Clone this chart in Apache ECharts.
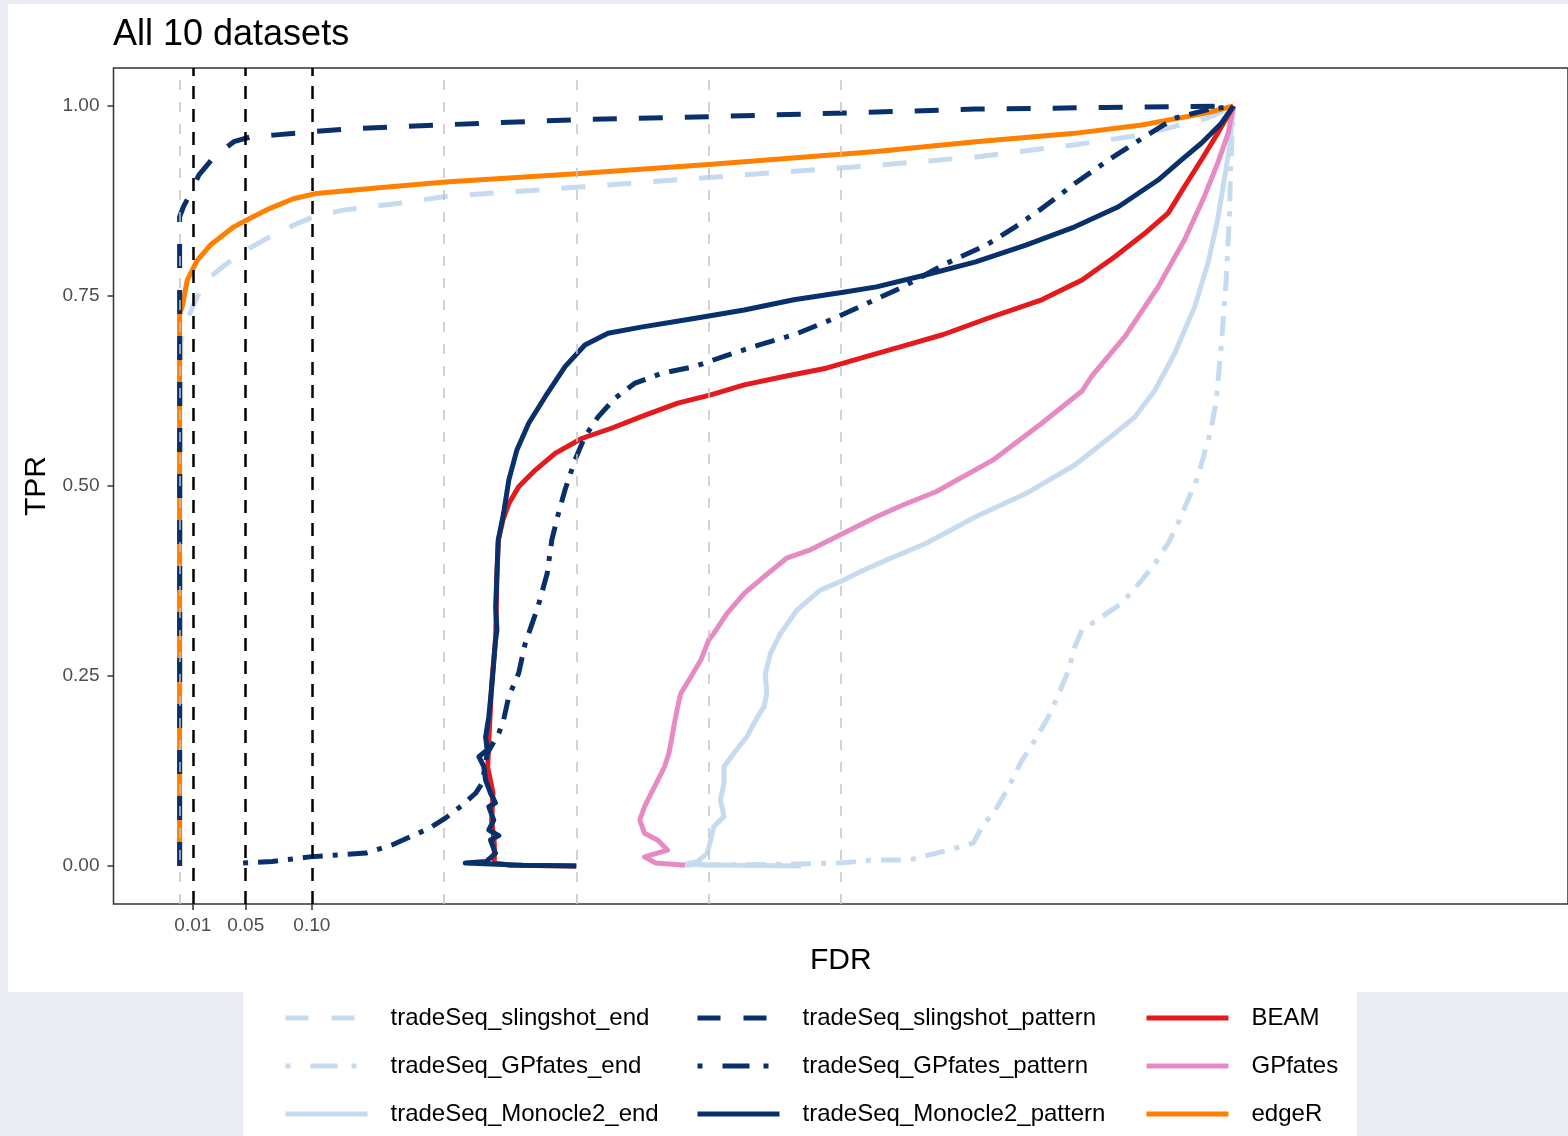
<!DOCTYPE html>
<html><head><meta charset="utf-8">
<script src="https://cdn.jsdelivr.net/npm/echarts@6.0.0/dist/echarts.min.js"></script>
<style>
html,body{margin:0;padding:0;background:#e9ecf2;width:1568px;height:1136px;overflow:hidden;}
#panel{position:absolute;left:8px;top:4px;width:1560px;height:988px;background:#fff;}
#legbox{position:absolute;left:243px;top:992px;width:1114px;height:144px;background:#fff;}
#chart{position:absolute;left:0;top:0;width:1568px;height:1136px;}
</style></head><body>
<div id="panel"></div><div id="legbox"></div><div id="chart"></div>
<script>
// ---------- DATA ----------
const titleText = 'All 10 datasets';
const xTickValues = [0.01, 0.05, 0.10];
const yTickValues = [0, 0.25, 0.5, 0.75, 1.0];
const grayGridX = [0, 0.2, 0.3, 0.4, 0.5];
const fdrThresholds = [0.01, 0.05, 0.10];

const slingshotEndFDR = [0, 0.001, 0.0045, 0.0133, 0.023, 0.0359, 0.0509, 0.0684, 0.086, 0.101, 0.1235, 0.166, 0.201, 0.300, 0.400, 0.527, 0.602, 0.677, 0.7276, 0.777, 0.797];
const slingshotEndTPR = [0, 0.69, 0.714, 0.749, 0.775, 0.793, 0.811, 0.828, 0.843, 0.854, 0.863, 0.872, 0.881, 0.893, 0.906, 0.922, 0.933, 0.949, 0.962, 0.984, 1.0];

const gpfatesEndFDR = [0.383, 0.45, 0.500, 0.5263, 0.552, 0.577, 0.600, 0.607, 0.617, 0.627, 0.637, 0.647, 0.657, 0.665, 0.6724, 0.677, 0.6825, 0.6975, 0.7125, 0.7276, 0.7376, 0.7476, 0.755, 0.7626, 0.770, 0.775, 0.780, 0.784, 0.7877, 0.7915, 0.794, 0.795, 0.797];
const gpfatesEndTPR = [0.001, 0.002, 0.004, 0.008, 0.008, 0.019, 0.030, 0.052, 0.074, 0.104, 0.139, 0.166, 0.196, 0.227, 0.258, 0.2886, 0.3105, 0.328, 0.3456, 0.376, 0.398, 0.4246, 0.4509, 0.4816, 0.512, 0.543, 0.5737, 0.613, 0.683, 0.771, 0.859, 0.9245, 1.0];

const monocleEndFDR = [0.47, 0.42, 0.3817, 0.392, 0.399, 0.4017, 0.404, 0.4117, 0.409, 0.4117, 0.4117, 0.419, 0.429, 0.437, 0.442, 0.444, 0.443, 0.447, 0.4545, 0.467, 0.4845, 0.502, 0.5145, 0.5346, 0.5647, 0.602, 0.640, 0.677, 0.7025, 0.7226, 0.7376, 0.7526, 0.7677, 0.7777, 0.785, 0.790, 0.794, 0.797];
const monocleEndTPR = [0.000, 0.001, 0.002, 0.006, 0.017, 0.034, 0.052, 0.065, 0.087, 0.109, 0.1306, 0.148, 0.170, 0.196, 0.2096, 0.227, 0.2535, 0.280, 0.306, 0.337, 0.363, 0.376, 0.387, 0.4026, 0.4246, 0.4596, 0.490, 0.5276, 0.5625, 0.591, 0.626, 0.6746, 0.736, 0.793, 0.850, 0.9026, 0.946, 1.0];

const gpfatesFDR = [0.382, 0.360, 0.3516, 0.369, 0.3617, 0.3516, 0.348, 0.3516, 0.3566, 0.3617, 0.3667, 0.370, 0.372, 0.3742, 0.3767, 0.379, 0.3867, 0.3942, 0.400, 0.404, 0.414, 0.427, 0.442, 0.459, 0.477, 0.502, 0.527, 0.547, 0.572, 0.615, 0.652, 0.6825, 0.690, 0.715, 0.740, 0.760, 0.775, 0.785, 0.793, 0.797];
const gpfatesTPR = [0.001, 0.004, 0.012, 0.021, 0.034, 0.043, 0.0605, 0.078, 0.0955, 0.113, 0.1306, 0.148, 0.166, 0.188, 0.2096, 0.227, 0.249, 0.271, 0.297, 0.306, 0.3325, 0.3586, 0.3807, 0.405, 0.416, 0.4377, 0.4596, 0.475, 0.4925, 0.534, 0.5825, 0.625, 0.645, 0.697, 0.762, 0.824, 0.881, 0.9245, 0.964, 1.0];

const beamFDR = [0.300, 0.25, 0.238, 0.238, 0.236, 0.237, 0.233, 0.234, 0.236, 0.239, 0.2395, 0.240, 0.241, 0.2445, 0.249, 0.2564, 0.269, 0.284, 0.304, 0.3266, 0.3516, 0.3767, 0.4017, 0.427, 0.457, 0.489, 0.5145, 0.547, 0.577, 0.615, 0.652, 0.6825, 0.7075, 0.730, 0.7476, 0.760, 0.7727, 0.785, 0.797];
const beamTPR = [0.000, 0.001, 0.004, 0.03, 0.06, 0.096, 0.13, 0.17, 0.24, 0.30, 0.34, 0.385, 0.429, 0.455, 0.477, 0.499, 0.521, 0.543, 0.5625, 0.576, 0.593, 0.609, 0.620, 0.633, 0.644, 0.655, 0.668, 0.684, 0.699, 0.723, 0.745, 0.771, 0.802, 0.8325, 0.859, 0.894, 0.929, 0.964, 1.0];

const edgeRFDR = [0, 0, 0.002, 0.0058, 0.0133, 0.0233, 0.041, 0.053, 0.068, 0.086, 0.1035, 0.1486, 0.201, 0.300, 0.400, 0.527, 0.602, 0.677, 0.7276, 0.777, 0.797];
const edgeRTPR = [0, 0.727, 0.736, 0.771, 0.797, 0.817, 0.841, 0.852, 0.865, 0.878, 0.885, 0.892, 0.900, 0.911, 0.923, 0.940, 0.953, 0.964, 0.975, 0.991, 1.0];

const slingshotPatFDR = [0, 0, 0.003, 0.0083, 0.0145, 0.026, 0.041, 0.053, 0.073, 0.0985, 0.129, 0.196, 0.300, 0.400, 0.527, 0.602, 0.700, 0.797];
const slingshotPatTPR = [0, 0.854, 0.868, 0.885, 0.909, 0.933, 0.953, 0.959, 0.962, 0.966, 0.970, 0.975, 0.982, 0.986, 0.992, 0.996, 0.998, 1.0];

const gpfatesPatFDR = [0.048, 0.07, 0.0985, 0.141, 0.161, 0.1887, 0.201, 0.2138, 0.2238, 0.2288, 0.2326, 0.2414, 0.245, 0.2489, 0.2564, 0.2614, 0.271, 0.278, 0.2815, 0.2865, 0.2915, 0.299, 0.3065, 0.3165, 0.329, 0.344, 0.364, 0.389, 0.414, 0.439, 0.4645, 0.489, 0.5145, 0.547, 0.580, 0.610, 0.632, 0.652, 0.677, 0.7025, 0.7276, 0.7526, 0.777, 0.797];
const gpfatesPatTPR = [0.004, 0.006, 0.012, 0.017, 0.028, 0.0496, 0.063, 0.080, 0.0957, 0.109, 0.148, 0.1746, 0.192, 0.2228, 0.2535, 0.293, 0.341, 0.385, 0.429, 0.464, 0.495, 0.534, 0.565, 0.591, 0.615, 0.635, 0.648, 0.657, 0.672, 0.686, 0.699, 0.716, 0.736, 0.762, 0.793, 0.817, 0.841, 0.865, 0.898, 0.929, 0.957, 0.984, 0.995, 1.0];

const monoclePatFDR = [0.300, 0.26, 0.216, 0.232, 0.2389, 0.2351, 0.2414, 0.2338, 0.2376, 0.2338, 0.2389, 0.2351, 0.2314, 0.2301, 0.2263, 0.2326, 0.2314, 0.2338, 0.2363, 0.2389, 0.240, 0.239, 0.240, 0.241, 0.245, 0.249, 0.255, 0.264, 0.2765, 0.2915, 0.3065, 0.324, 0.349, 0.389, 0.427, 0.4645, 0.502, 0.527, 0.5647, 0.602, 0.640, 0.677, 0.710, 0.740, 0.7577, 0.7727, 0.7877, 0.797];
const monoclePatTPR = [0.000, 0.001, 0.004, 0.006, 0.0167, 0.0342, 0.040, 0.0474, 0.0605, 0.078, 0.083, 0.096, 0.113, 0.1307, 0.1438, 0.1526, 0.170, 0.196, 0.240, 0.297, 0.3105, 0.341, 0.385, 0.429, 0.464, 0.508, 0.547, 0.5825, 0.6175, 0.657, 0.6855, 0.701, 0.709, 0.7205, 0.7316, 0.745, 0.755, 0.762, 0.778, 0.795, 0.817, 0.841, 0.8675, 0.9026, 0.929, 0.951, 0.977, 1.0];

// ---------- STYLE ----------
const NAVY = '#08306b', LIGHT = '#c6dbef', RED = '#e41a1c', PINK = '#e78ac3', ORANGE = '#ff7f00';
const DASHED = [24, 22];
const DOTDASH = [5, 10, 20, 10];
const LEG_DOTDASH = [5, 20, 27, 14];
const LEG_DASHED = [23, 23];

const seriesDefs = [
  {name: 'tradeSeq_slingshot_end', fdr: slingshotEndFDR, tpr: slingshotEndTPR, color: LIGHT, type: DASHED},
  {name: 'tradeSeq_GPfates_end', fdr: gpfatesEndFDR, tpr: gpfatesEndTPR, color: LIGHT, type: DOTDASH},
  {name: 'tradeSeq_Monocle2_end', fdr: monocleEndFDR, tpr: monocleEndTPR, color: LIGHT, type: 'solid'},
  {name: 'GPfates', fdr: gpfatesFDR, tpr: gpfatesTPR, color: PINK, type: 'solid'},
  {name: 'BEAM', fdr: beamFDR, tpr: beamTPR, color: RED, type: 'solid'},
  {name: 'edgeR', fdr: edgeRFDR, tpr: edgeRTPR, color: ORANGE, type: 'solid'},
  {name: 'tradeSeq_slingshot_pattern', fdr: slingshotPatFDR, tpr: slingshotPatTPR, color: NAVY, type: DASHED},
  {name: 'tradeSeq_GPfates_pattern', fdr: gpfatesPatFDR, tpr: gpfatesPatTPR, color: NAVY, type: DOTDASH},
  {name: 'tradeSeq_Monocle2_pattern', fdr: monoclePatFDR, tpr: monoclePatTPR, color: NAVY, type: 'solid'}
];

const FONT = '"Liberation Sans", Arial, Helvetica, sans-serif';

const series = [
  {
    type: 'line', name: '_grid', data: [], silent: true, z: 1,
    markLine: {
      silent: true, symbol: ['none', 'none'], animation: false,
      label: {show: false},
      lineStyle: {type: [10, 12], color: '#c4c4c4', width: 1.5},
      data: grayGridX.map(v => ({xAxis: v}))
    }
  },
  {
    type: 'line', name: '_thr', data: [], silent: true, z: 1,
    markLine: {
      silent: true, symbol: ['none', 'none'], animation: false,
      label: {show: false},
      lineStyle: {type: [13, 10], color: '#000000', width: 2.5},
      data: fdrThresholds.map(v => ({xAxis: v}))
    }
  }
];
seriesDefs.forEach((d) => {
  series.push({
    type: 'line', name: d.name, z: 3,
    data: d.fdr.map((x, k) => [x, d.tpr[k]]),
    showSymbol: false, symbol: 'none', animation: false,
    itemStyle: {color: d.color},
    lineStyle: {color: d.color, width: 5, type: d.type, cap: 'butt', join: 'round'}
  });
});

function legendItem(name) {
  const d = seriesDefs.find(s => s.name === name);
  let t = d.type;
  if (t === DOTDASH) t = LEG_DOTDASH;
  if (t === DASHED) t = LEG_DASHED;
  return {name: name, lineStyle: {type: t}};
}
function makeLegend(names, left) {
  return {
    orient: 'vertical', left: left, top: 1006, padding: 0,
    itemWidth: 82, itemHeight: 24, itemGap: 24,
    selectedMode: false,
    data: names.map(legendItem),
    itemStyle: {opacity: 0, borderWidth: 0},
    lineStyle: {width: 5},
    textStyle: {fontFamily: FONT, fontSize: 24, color: '#000', lineHeight: 24, padding: [0, 0, 0, 18]}
  };
}

const chart = echarts.init(document.getElementById('chart'), null, {renderer: 'canvas'});
chart.setOption({
  animation: false,
  backgroundColor: 'transparent',
  title: {
    text: titleText, left: 113, top: 17, padding: 0,
    textStyle: {fontFamily: FONT, fontSize: 36, fontWeight: 'normal', color: '#000'}
  },
  legend: [
    makeLegend(['tradeSeq_slingshot_end', 'tradeSeq_GPfates_end', 'tradeSeq_Monocle2_end'], 283),
    makeLegend(['tradeSeq_slingshot_pattern', 'tradeSeq_GPfates_pattern', 'tradeSeq_Monocle2_pattern'], 695),
    makeLegend(['BEAM', 'GPfates', 'edgeR'], 1144)
  ],
  grid: {
    left: 113.5, top: 68, width: 1463, height: 836,
    show: true, borderColor: '#333333', borderWidth: 1.5, backgroundColor: 'transparent',
    containLabel: false
  },
  xAxis: {
    type: 'value', min: -0.05, max: 1.05,
    name: 'FDR', nameLocation: 'middle', nameGap: 42,
    nameTextStyle: {fontFamily: FONT, fontSize: 30, color: '#000'},
    axisLine: {show: false, onZero: false},
    splitLine: {show: false},
    axisTick: {show: true, inside: false, length: 6, customValues: xTickValues, lineStyle: {color: '#333', width: 1.5}},
    axisLabel: {show: true, customValues: xTickValues, margin: 12, fontFamily: FONT, fontSize: 19, color: '#4d4d4d',
      formatter: v => Number(v).toFixed(2)}
  },
  yAxis: {
    type: 'value', min: -0.05, max: 1.05,
    name: 'TPR', nameLocation: 'middle', nameGap: 61, nameRotate: 90,
    nameTextStyle: {fontFamily: FONT, fontSize: 30, color: '#000'},
    axisLine: {show: false, onZero: false},
    splitLine: {show: false},
    axisTick: {show: true, inside: false, length: 6, customValues: yTickValues, lineStyle: {color: '#333', width: 1.5}},
    axisLabel: {show: true, customValues: yTickValues, margin: 14, fontFamily: FONT, fontSize: 19, color: '#4d4d4d',
      formatter: v => Number(v).toFixed(2)}
  },
  series: series
});
</script></body></html>
